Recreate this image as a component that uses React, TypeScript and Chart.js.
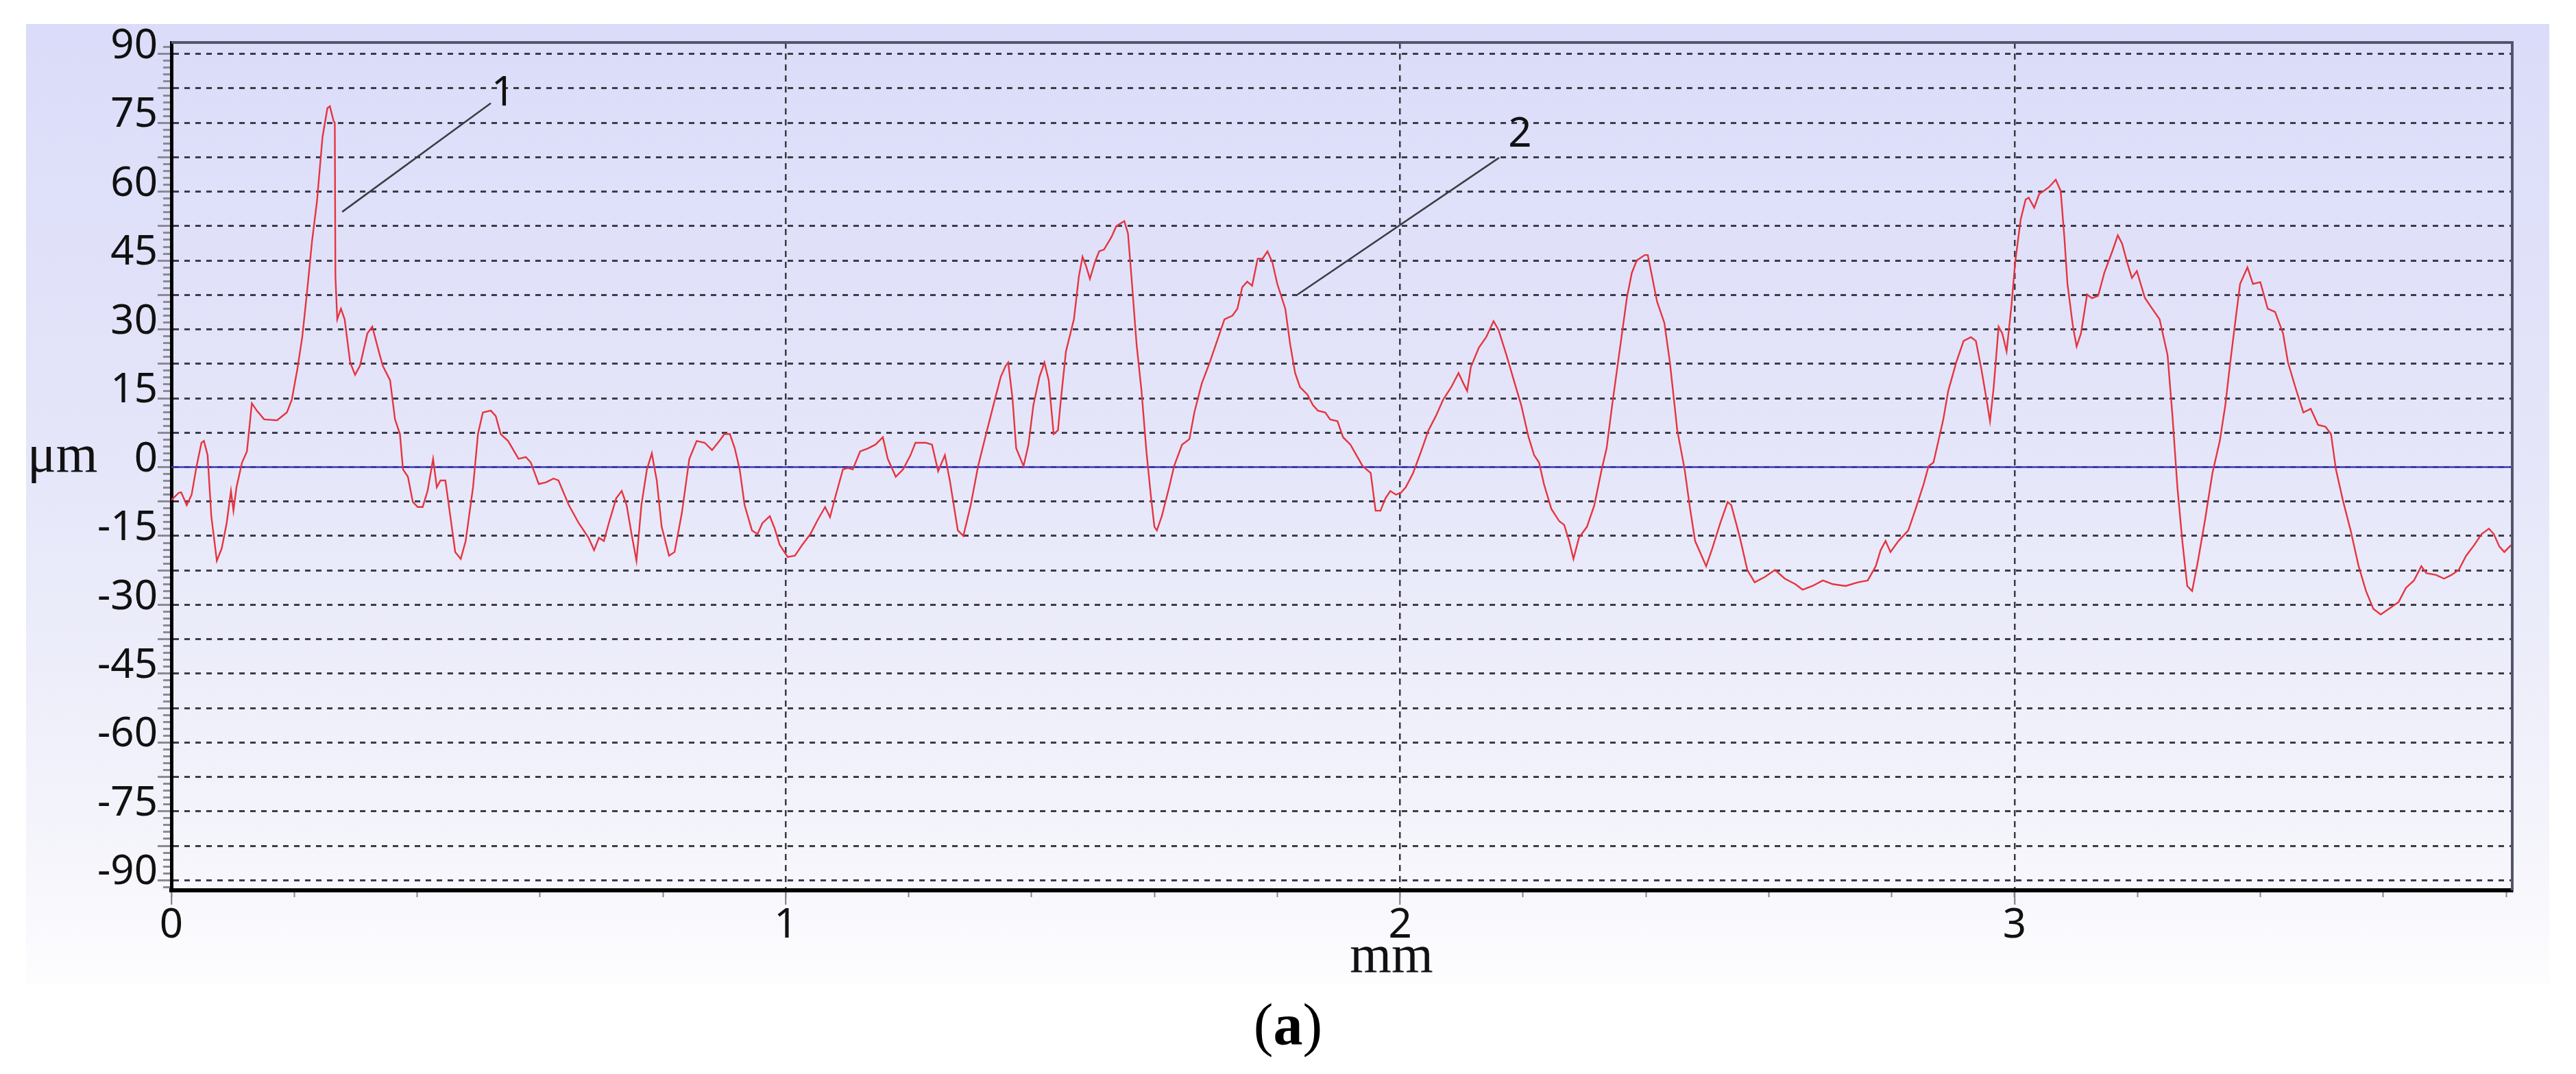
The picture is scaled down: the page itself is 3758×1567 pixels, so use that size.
import React, { useEffect, useRef } from "react";
import { Chart, registerables } from "chart.js";

Chart.register(...registerables);

// ---- data (profile) ----
const profileXmm: number[] = [
  0.000, 0.012, 0.016, 0.025, 0.033, 0.041, 0.049, 0.053, 0.059, 0.065, 0.074, 0.082, 0.090, 0.097, 0.101, 0.106,
  0.115, 0.123, 0.131, 0.139, 0.151, 0.172, 0.188, 0.196, 0.205, 0.213, 0.221, 0.229, 0.237, 0.246, 0.254, 0.258,
  0.264, 0.266, 0.267, 0.270, 0.276, 0.282, 0.291, 0.299, 0.307, 0.319, 0.327, 0.336, 0.344, 0.356, 0.364, 0.372,
  0.377, 0.385, 0.393, 0.401, 0.409, 0.417, 0.426, 0.432, 0.438, 0.446, 0.454, 0.462, 0.471, 0.479, 0.491, 0.499,
  0.507, 0.520, 0.528, 0.536, 0.548, 0.565, 0.577, 0.585, 0.598, 0.610, 0.622, 0.630, 0.647, 0.663, 0.679, 0.688,
  0.696, 0.704, 0.712, 0.724, 0.733, 0.741, 0.749, 0.757, 0.765, 0.774, 0.782, 0.790, 0.798, 0.810, 0.819, 0.831,
  0.843, 0.855, 0.868, 0.880, 0.892, 0.900, 0.909, 0.917, 0.925, 0.933, 0.945, 0.954, 0.962, 0.974, 0.982, 0.990,
  1.003, 1.015, 1.027, 1.040, 1.052, 1.064, 1.072, 1.080, 1.093, 1.101, 1.109, 1.121, 1.134, 1.146, 1.158, 1.166,
  1.179, 1.191, 1.203, 1.211, 1.228, 1.238, 1.248, 1.259, 1.267,
  1.280, 1.289, 1.301, 1.313, 1.326, 1.338, 1.350, 1.358, 1.362, 1.369, 1.375, 1.387, 1.395, 1.403, 1.413, 1.421,
  1.428, 1.436, 1.443, 1.448, 1.456, 1.469, 1.477, 1.483, 1.489, 1.495, 1.503, 1.510, 1.518, 1.530, 1.538, 1.551,
  1.557, 1.563, 1.571, 1.579, 1.587, 1.594, 1.600, 1.604, 1.612, 1.624, 1.632, 1.645, 1.657, 1.665, 1.677, 1.690,
  1.702, 1.714, 1.727, 1.735, 1.743, 1.751, 1.759, 1.768, 1.776, 1.784, 1.792, 1.800, 1.813, 1.821, 1.829, 1.837,
  1.849, 1.858, 1.866, 1.878, 1.886, 1.898, 1.907, 1.919, 1.927, 1.939, 1.952, 1.960, 1.968, 1.976, 1.984, 1.993,
  2.001, 2.009, 2.021, 2.034, 2.046, 2.058, 2.070, 2.083, 2.095, 2.103, 2.109, 2.115, 2.128, 2.140, 2.152, 2.160,
  2.173, 2.185, 2.197, 2.209, 2.218, 2.226, 2.234, 2.246, 2.259, 2.267, 2.275, 2.282, 2.291, 2.304, 2.316, 2.328,
  2.336, 2.345, 2.353, 2.361, 2.369, 2.377, 2.385, 2.398, 2.403, 2.410, 2.418, 2.430, 2.439, 2.451, 2.463, 2.471,
  2.480, 2.488, 2.498, 2.508, 2.521, 2.533, 2.539,
  2.553, 2.565, 2.577, 2.594, 2.610, 2.626, 2.643, 2.655, 2.671, 2.688, 2.704, 2.725, 2.745, 2.761, 2.774, 2.782,
  2.790, 2.798, 2.811, 2.827, 2.839, 2.852, 2.860, 2.868, 2.876, 2.884, 2.892, 2.905, 2.917, 2.929, 2.937, 2.946,
  2.954, 2.960, 2.966, 2.974, 2.980, 2.987, 2.995, 3.001, 3.010, 3.018, 3.023, 3.032, 3.040, 3.048, 3.056, 3.067,
  3.075, 3.081, 3.086, 3.095, 3.101, 3.108, 3.118, 3.126, 3.136, 3.146, 3.159, 3.168, 3.175, 3.183, 3.191, 3.199,
  3.212, 3.224, 3.236, 3.249, 3.257, 3.265, 3.273, 3.281, 3.289, 3.298, 3.310, 3.322, 3.334, 3.343, 3.351, 3.359,
  3.367, 3.379, 3.388, 3.400, 3.412, 3.424, 3.437, 3.445, 3.457, 3.470, 3.482, 3.494, 3.506, 3.515, 3.523, 3.535,
  3.547, 3.560, 3.572, 3.584, 3.596, 3.609, 3.625, 3.637, 3.650, 3.662, 3.670, 3.686, 3.699, 3.711, 3.723, 3.735,
  3.748, 3.760, 3.772, 3.780, 3.789, 3.797, 3.809,
];

const profileYum: number[] = [
  -7.2, -5.6, -5.5, -8.3, -6.0, 0.2, 5.3, 5.7, 2.6, -10.7, -20.4, -17.7, -12.2, -5.2, -9.5, -4.4,
  1.0, 3.4, 13.9, 12.3, 10.4, 10.2, 11.9, 14.7, 21.3, 28.3, 38.4, 49.3, 57.9, 71.9, 78.2, 78.6,
  75.4, 75.0, 41.5, 32.2, 34.5, 32.2, 22.8, 20.1, 22.1, 29.1, 30.6, 26.0, 22.1, 18.9, 10.4, 7.2,
  -0.5, -2.1, -7.6, -8.7, -8.7, -5.2, 1.8, -4.4, -2.9, -2.9, -10.7, -18.5, -20.0, -16.1, -4.4, 7.2,
  11.9, 12.3, 11.1, 7.2, 5.7, 1.8, 2.2, 1.0, -3.7, -3.3, -2.5, -2.9, -8.3, -12.2, -15.4, -18.1,
  -15.4, -16.1, -12.2, -6.8, -5.2, -8.3, -14.6, -20.4, -8.3, -0.5, 3.0, -2.9, -13.0, -19.3, -18.5, -9.9,
  1.8, 5.7, 5.3, 3.7, 5.7, 7.2, 7.2, 4.1, -0.5, -8.3, -13.8, -14.6, -12.2, -10.7, -13.4, -16.9,
  -19.6, -19.3, -16.9, -14.6, -11.5, -8.7, -10.9, -6.8, -0.5, -0.2, -0.5, 3.4, 4.1, 4.9, 6.5, 1.8,
  -2.1, -0.5, 2.6, 5.3, 5.3, 4.9, -0.9, 2.6, -2.9,
  -13.8, -15.0, -8.3, 0.2, 7.2, 13.5, 19.7, 22.1, 22.8, 15.0, 4.1, 0.2, 4.9, 13.5, 19.7, 22.8,
  18.9, 7.2, 8.0, 15.0, 25.2, 32.2, 41.5, 45.8, 43.7, 41.0, 44.6, 47.0, 47.4, 50.1, 52.5, 53.6,
  50.9, 40.8, 26.7, 16.6, 3.4, -6.0, -13.0, -13.8, -10.7, -4.4, 0.2, 4.9, 6.1, 11.9, 18.2, 22.8,
  27.5, 32.2, 33.0, 34.5, 39.2, 40.4, 39.5, 45.4, 45.4, 47.0, 44.6, 39.9, 34.5, 26.7, 20.5, 17.4,
  15.8, 13.5, 12.3, 11.9, 10.4, 10.0, 6.5, 4.9, 3.0, 0.2, -1.3, -9.5, -9.5, -6.8, -5.2, -6.0,
  -5.6, -4.4, -1.3, 3.4, 8.0, 11.1, 14.7, 17.4, 20.5, 18.2, 16.6, 21.8, 26.0, 28.3, 31.8, 29.9,
  24.4, 18.9, 13.5, 6.5, 2.6, 1.0, -3.7, -9.1, -11.8, -12.6, -16.1, -20.0, -15.4, -13.0, -8.3, -0.5,
  4.1, 13.5, 21.3, 29.1, 36.9, 42.3, 45.0, 46.2, 46.2, 41.5, 36.1, 31.4, 22.8, 8.0, -0.5, -8.3,
  -16.1, -18.5, -21.6, -17.7, -12.2, -7.6, -8.3,
  -15.4, -22.4, -25.1, -23.9, -22.4, -24.3, -25.5, -26.7, -25.9, -24.7, -25.5, -25.9, -25.1, -24.7, -21.6, -18.1,
  -16.1, -18.5, -16.1, -13.8, -9.1, -3.7, 0.2, 1.0, 5.7, 10.4, 16.6, 22.8, 27.5, 28.3, 27.5, 21.3,
  15.0, 10.0, 17.4, 30.6, 29.1, 25.2, 35.3, 44.7, 54.0, 58.3, 58.7, 56.5, 59.5, 60.2, 61.0, 62.6,
  60.2, 50.1, 40.0, 30.6, 26.3, 29.1, 37.6, 36.8, 37.3, 42.3, 47.0, 50.5, 48.7, 44.7, 41.2, 42.7,
  36.9, 34.5, 32.2, 24.4, 11.1, -4.4, -16.1, -25.9, -27.0, -20.8, -11.5, -1.3, 5.7, 13.5, 22.8, 31.4,
  39.9, 43.5, 39.9, 40.3, 34.5, 33.8, 29.1, 22.8, 17.4, 11.9, 12.7, 9.2, 8.8, 7.2, -0.5, -7.6,
  -13.8, -21.6, -27.0, -30.9, -32.1, -30.9, -29.4, -26.3, -24.7, -21.6, -23.1, -23.5, -24.3, -23.5, -22.4, -19.3,
  -17.0, -14.6, -13.4, -14.6, -17.3, -18.5, -16.9,
];

const xRangeMm = [0, 3.81];
const yRangeUm = [-92.2, 92.5];
const xMajorStep = 1;
const xMinorStep = 0.2;
const yGridStep = 7.5;
const yLabelStep = 15;
const yMinorStep = 1.5;

const calloutNames = ["1", "2"];
const leaderStartXmm = [0.278, 1.833];
const leaderStartYum = [55.6, 37.6];
const leaderEndXmm = [0.52, 2.161];
const leaderEndYum = [79.3, 67.4];
const calloutLabelXmm = [0.54, 2.195];
const calloutLabelYum = [81.3, 72.3];

const TICK_FONT = "'Noto Sans', 'DejaVu Sans', sans-serif";
const SERIF = "'Liberation Serif', 'DejaVu Serif', serif";

const overlayPlugin = {
  id: "overlay",
  afterDraw(chart: any) {
    const { ctx, chartArea: a, scales } = chart;
    ctx.save();
    ctx.strokeStyle = "#52556c";
    ctx.lineWidth = 4;
    ctx.beginPath();
    ctx.moveTo(a.left, a.top);
    ctx.lineTo(a.right, a.top);
    ctx.lineTo(a.right, a.bottom);
    ctx.stroke();
    ctx.fillStyle = "#111";
    ctx.font = `60px ${TICK_FONT}`;
    ctx.textAlign = "center";
    ctx.textBaseline = "middle";
    calloutNames.forEach((name, i) => {
      const px = scales.x.getPixelForValue(calloutLabelXmm[i]);
      const py = scales.y.getPixelForValue(calloutLabelYum[i]);
      ctx.fillText(name, px, py);
    });
    ctx.restore();
  },
};

export default function App() {
  const canvasRef = useRef<HTMLCanvasElement | null>(null);

  useEffect(() => {
    if (!canvasRef.current) return;
    const profile = profileXmm.map((x, i) => ({ x, y: profileYum[i] }));
    const zeroLine = [
      { x: xRangeMm[0], y: 0 },
      { x: xRangeMm[1], y: 0 },
    ];
    const leaders = calloutNames.map((name, i) => ({
      label: "callout " + name,
      data: [
        { x: leaderStartXmm[i], y: leaderStartYum[i] },
        { x: leaderEndXmm[i], y: leaderEndYum[i] },
      ],
      borderColor: "#3c3c44",
      borderWidth: 2.5,
      pointRadius: 0,
      xAxisID: "x",
      yAxisID: "y",
    }));

    const chart = new Chart(canvasRef.current, {
      type: "line",
      data: {
        datasets: [
          {
            label: "profile",
            data: profile,
            borderColor: "#e6343f",
            borderWidth: 2.4,
            pointRadius: 0,
            tension: 0,
            xAxisID: "x",
            yAxisID: "y",
          },
          {
            label: "zero",
            data: zeroLine,
            borderColor: "#3b3bb2",
            borderWidth: 2.5,
            pointRadius: 0,
            xAxisID: "x",
            yAxisID: "y",
          },
          ...leaders,
        ] as any,
      },
      options: {
        animation: false,
        responsive: false,
        devicePixelRatio: 1,
        events: [],
        layout: { padding: { left: 0, top: 62, right: 93, bottom: 0 } },
        plugins: { legend: { display: false }, tooltip: { enabled: false } },
        scales: {
          x: {
            type: "linear",
            position: "bottom",
            weight: 1,
            min: xRangeMm[0],
            max: xRangeMm[1],
            afterFit: (s: any) => {
              s.height = 268;
            },
            ticks: {
              stepSize: xMajorStep,
              includeBounds: false,
              autoSkip: false,
              maxRotation: 0,
              padding: -5,
              color: "#111",
              font: { family: TICK_FONT, size: 60 },
              callback: (v: any) => String(v),
            },
            grid: {
              color: "#3a3a44",
              lineWidth: 2.5,
              tickColor: "#7a7a80",
              tickWidth: 2,
              tickLength: 21,
            },
            border: { display: true, color: "#000", width: 6, dash: [9, 7] },
          },
          xMinor: {
            type: "linear",
            position: "bottom",
            weight: 0,
            min: xRangeMm[0],
            max: xRangeMm[1],
            afterFit: (s: any) => {
              s.height = 0;
            },
            ticks: { stepSize: xMinorStep, includeBounds: false, autoSkip: false, display: false },
            grid: {
              display: true,
              drawOnChartArea: false,
              tickColor: "#85858c",
              tickWidth: 2,
              tickLength: 10,
            },
            border: { display: false },
          },
          y: {
            type: "linear",
            position: "left",
            weight: 1,
            min: yRangeUm[0],
            max: yRangeUm[1],
            afterFit: (s: any) => {
              s.width = 250;
            },
            ticks: {
              stepSize: yGridStep,
              includeBounds: false,
              autoSkip: false,
              padding: 0,
              labelOffset: -11,
              color: "#111",
              font: { family: TICK_FONT, size: 60 },
              callback: (v: any) => {
                const n = Number(v);
                return Math.abs(n % yLabelStep) < 1e-6 ? String(n) : "";
              },
            },
            grid: {
              color: "#3c3c4a",
              lineWidth: 3,
              tickColor: "#8a8a92",
              tickWidth: 3,
              tickLength: 20,
            },
            border: { display: true, color: "#000", width: 5, dash: [8, 8] },
          },
          yMinor: {
            type: "linear",
            position: "left",
            weight: 0,
            min: yRangeUm[0],
            max: yRangeUm[1],
            afterFit: (s: any) => {
              s.width = 0;
            },
            ticks: { stepSize: yMinorStep, includeBounds: false, autoSkip: false, display: false },
            grid: {
              display: true,
              drawOnChartArea: false,
              tickColor: "#8a8a92",
              tickWidth: 3,
              tickLength: 12,
            },
            border: { display: false },
          },
        },
      } as any,
      plugins: [overlayPlugin],
    });
    return () => chart.destroy();
  }, []);

  return (
    <div
      style={{
        position: "absolute",
        left: 0,
        top: 0,
        width: 3758,
        height: 1567,
        background: "#ffffff",
        overflow: "hidden",
      }}
    >
      <div
        style={{
          position: "absolute",
          left: 38,
          top: 35,
          width: 3681,
          height: 1400,
          background:
            "linear-gradient(to bottom, rgb(219,220,249) 0%, rgb(229,230,249) 46%, rgb(243,243,251) 82%, rgb(253,252,254) 100%)",
        }}
      />
      <canvas
        ref={canvasRef}
        width={3758}
        height={1567}
        style={{ position: "absolute", left: 0, top: 0, width: 3758, height: 1567 }}
      />
      <div
        style={{
          position: "absolute",
          left: 40,
          top: 623,
          font: `78px ${SERIF}`,
          lineHeight: "78px",
          color: "#111",
          whiteSpace: "nowrap",
        }}
      >
        μm
      </div>
      <div
        style={{
          position: "absolute",
          left: 1830,
          top: 1353,
          width: 400,
          textAlign: "center",
          font: `78px ${SERIF}`,
          lineHeight: "78px",
          color: "#111",
        }}
      >
        mm
      </div>
      <div
        style={{
          position: "absolute",
          left: 1679,
          top: 1452,
          width: 400,
          textAlign: "center",
          font: `86px ${SERIF}`,
          lineHeight: "86px",
          color: "#000",
        }}
      >
        (<b>a</b>)
      </div>
    </div>
  );
}
